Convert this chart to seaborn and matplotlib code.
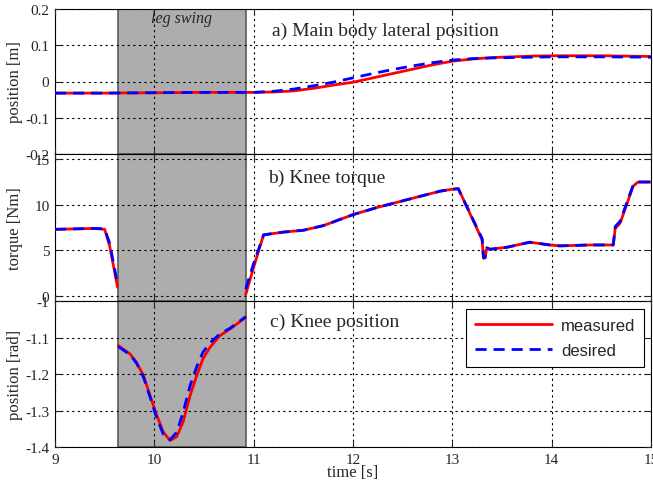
import numpy as np
import pandas as pd
import matplotlib
matplotlib.use('Agg')
import matplotlib.pyplot as plt
import seaborn as sns

# a) main body lateral position [m]
t_body = [9, 9.5, 10, 10.5, 11, 11.2, 11.4, 11.6, 11.8, 12, 12.2, 12.4, 12.6, 12.8,
          13, 13.2, 13.4, 13.6, 13.8, 14, 14.5, 15]
body_meas = [-0.032, -0.032, -0.031, -0.030, -0.030, -0.029, -0.026, -0.019, -0.010, -0.002,
             0.010, 0.022, 0.034, 0.046, 0.056, 0.062, 0.066, 0.068, 0.070, 0.071, 0.071, 0.069]
body_des = [-0.032, -0.032, -0.031, -0.030, -0.030, -0.027, -0.021, -0.012, -0.002, 0.010,
            0.022, 0.033, 0.043, 0.052, 0.059, 0.063, 0.065, 0.066, 0.067, 0.068, 0.068, 0.067]

# b) knee torque [Nm] (two pieces, swing phase has no torque data)
t_torque1 = [9, 9.2, 9.4, 9.5, 9.55, 9.63]
torque_meas1 = [7.3, 7.35, 7.4, 7.3, 5.5, 1.0]
torque_des1 = [7.3, 7.35, 7.4, 7.35, 5.8, 1.3]
t_torque2 = [10.92, 11.0, 11.1, 11.3, 11.5, 11.7, 12.0, 12.25, 12.5, 12.75, 12.88, 12.99,
             13.06, 13.3, 13.313, 13.33, 13.347, 13.38, 13.55, 13.78, 13.98, 14.08, 14.39,
             14.62, 14.64, 14.69, 14.82, 14.87, 15.0]
torque_meas2 = [0.2, 3.2, 6.7, 7.0, 7.2, 7.7, 8.9, 9.7, 10.4, 11.1, 11.46, 11.65,
                11.76, 6.15, 4.14, 4.25, 5.24, 5.13, 5.35, 5.9, 5.6, 5.5, 5.6,
                5.6, 7.4, 8.0, 12.0, 12.45, 12.45]
torque_des2 = [0.8, 3.6, 6.7, 7.0, 7.2, 7.7, 8.9, 9.7, 10.4, 11.1, 11.46, 11.65,
               11.7, 6.3, 4.3, 4.2, 5.3, 5.13, 5.35, 5.9, 5.6, 5.5, 5.6,
               5.6, 7.6, 8.2, 12.1, 12.45, 12.45]

# c) knee position [rad] during swing
t_knee = [9.637, 9.755, 9.82, 9.89, 9.957, 10.024, 10.09, 10.158, 10.225, 10.29, 10.36,
          10.427, 10.49, 10.56, 10.66, 10.76, 10.92]
knee_meas = [-1.122, -1.145, -1.168, -1.204, -1.259, -1.313, -1.359, -1.382, -1.372,
             -1.331, -1.259, -1.204, -1.158, -1.127, -1.095, -1.077, -1.045]
knee_des = [-1.125, -1.147, -1.170, -1.208, -1.263, -1.320, -1.365, -1.380, -1.360,
            -1.305, -1.232, -1.180, -1.140, -1.115, -1.090, -1.075, -1.043]

swing = (9.63, 10.92)

sns.set_style('ticks')
plt.rcParams['font.family'] = ['Liberation Serif', 'DejaVu Serif']
plt.rcParams['xtick.direction'] = 'in'
plt.rcParams['ytick.direction'] = 'in'

fig = plt.figure(figsize=(6.53, 4.85), dpi=100)
left, width = 55 / 653, 596 / 653
ax_a = fig.add_axes([left, 1 - 155 / 485, width, 145 / 485])
ax_b = fig.add_axes([left, 1 - 302 / 485, width, 147 / 485])
ax_c = fig.add_axes([left, 1 - 448 / 485, width, 146 / 485])

red = '#ff0000'
blue = '#0000ff'
lw = 2.0
dash = (0, (4, 2.5))


def draw(ax, t, meas, des):
    df = pd.DataFrame({'t': t, 'meas': meas, 'des': des})
    sns.lineplot(data=df, x='t', y='meas', ax=ax, color=red, lw=lw, zorder=4)
    sns.lineplot(data=df, x='t', y='des', ax=ax, color=blue, lw=lw, ls=dash, zorder=5)


draw(ax_a, t_body, body_meas, body_des)
draw(ax_b, t_torque1, torque_meas1, torque_des1)
draw(ax_b, t_torque2, torque_meas2, torque_des2)
draw(ax_c, t_knee, knee_meas, knee_des)

for ax in (ax_a, ax_b, ax_c):
    ax.axvspan(*swing, facecolor='#adadad', edgecolor='#5a5a5a', lw=1.2, zorder=1)
    ax.set_xlim(9, 15)
    ax.set_xticks(np.arange(9, 16, 1))
    ax.grid(True, color='black', ls=(0, (2, 3)), lw=0.8)
    ax.set_axisbelow(False)
    for gl in ax.get_xgridlines() + ax.get_ygridlines():
        gl.set_zorder(2)
    for sp in ax.spines.values():
        sp.set_visible(True)
        sp.set_color('black')
        sp.set_linewidth(0.8)
    ax.tick_params(labelsize=11, length=4, width=0.8, top=True, right=True, pad=4)
    ax.set_xlabel('')

ax_a.set_ylim(-0.2, 0.2)
ax_a.set_yticks([0.2, 0.1, 0, -0.1, -0.2])
ax_a.set_yticklabels(['0.2', '0.1', '0', '-0.1', '-0.2'])
ax_a.set_ylabel('position [m]', fontsize=12, labelpad=2)
ax_a.tick_params(labelbottom=False)
ax_a.text(11.18, 0.128, 'a) Main body lateral position', fontsize=14)
ax_a.text(np.mean(swing), 0.165, 'leg swing', fontsize=11.5, style='italic', ha='center')

ax_b.set_ylim(-0.5, 15.5)
ax_b.set_yticks([0, 5, 10, 15])
ax_b.set_ylabel('torque [Nm]', fontsize=12, labelpad=8)
ax_b.tick_params(labelbottom=False)
ax_b.text(11.14, 12.5, 'b) Knee torque', fontsize=14)

ax_c.set_ylim(-1.4, -1)
ax_c.set_yticks([-1, -1.1, -1.2, -1.3, -1.4])
ax_c.set_yticklabels(['-1', '-1.1', '-1.2', '-1.3', '-1.4'])
ax_c.set_ylabel('position [rad]', fontsize=12, labelpad=2)
ax_c.set_xlabel('time [s]', fontsize=12, labelpad=-1)
ax_c.text(11.16, -1.067, 'c) Knee position', fontsize=14)

handles = [plt.Line2D([], [], color=red, lw=lw),
           plt.Line2D([], [], color=blue, lw=lw, ls=dash)]
leg = ax_c.legend(handles, ['measured', 'desired'], loc='upper right',
                  bbox_to_anchor=(0.989, 0.945), borderaxespad=0, frameon=True,
                  fancybox=False, edgecolor='black', framealpha=1, handlelength=4.6,
                  handletextpad=0.55, prop={'family': 'Liberation Sans', 'size': 12},
                  borderpad=0.55, labelspacing=0.6)
leg.get_frame().set_linewidth(0.8)

fig.savefig('out.png', dpi=100)
